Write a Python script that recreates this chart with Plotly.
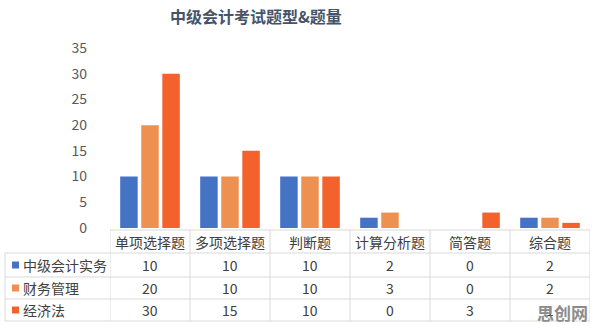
import plotly.graph_objects as go

categories = ["单项选择题", "多项选择题", "判断题", "计算分析题", "简答题", "综合题"]
series_names = ["中级会计实务", "财务管理", "经济法"]
zhongji = [10, 10, 10, 2, 0, 2]
caiwu = [20, 10, 10, 3, 0, 2]
jingji = [30, 15, 10, 0, 3, 1]
colors = ["#4472C4", "#EE9150", "#F4622C"]
y_ticks = [0, 5, 10, 15, 20, 25, 30, 35]

W, H = 596, 325
L, R, T, B = 110, 6, 48, 97
PW = W - L - R
PH = H - T - B
def px_x(px):
    return (px - L) / PW
def px_y(py):
    return (H - B - py) / PH

series_vals = [zhongji, caiwu, jingji]
idx = list(range(len(categories)))

fig = go.Figure()
for name, vals, c in zip(series_names, series_vals, colors):
    fig.add_trace(go.Bar(x=idx, y=vals, name=name, marker=dict(color=c, line=dict(width=0)),
                         hoverinfo="y+name"))

fig.update_layout(
    width=W, height=H,
    margin=dict(l=L, r=R, t=T, b=B),
    paper_bgcolor="white", plot_bgcolor="white",
    barmode="group", bargap=0.21, bargroupgap=0.17,
    showlegend=False,
    font=dict(family="Noto Sans CJK SC, sans-serif", color="#404040", size=14),
)
fig.update_xaxes(range=[-0.5, len(categories) - 0.5], showticklabels=False, showgrid=False,
                 zeroline=False, showline=False, ticks="")
fig.update_yaxes(range=[0, 35], tickvals=y_ticks, showgrid=False, zeroline=False, showline=False,
                 ticks="", ticklabelstandoff=22,
                 tickfont=dict(size=14, color="#595959", family="Noto Sans CJK SC, sans-serif"))

line_c = "#D9D9D9"
shapes = []
row_lines_px = [230, 253, 277, 299, 321]
shapes.append(dict(type="line", xref="paper", yref="paper", x0=0, x1=1,
                   y0=px_y(row_lines_px[0]), y1=px_y(row_lines_px[0]), line=dict(color=line_c, width=1)))
for py in row_lines_px[1:]:
    shapes.append(dict(type="line", xref="paper", yref="paper", x0=px_x(5), x1=1,
                       y0=px_y(py), y1=px_y(py), line=dict(color=line_c, width=1)))
for i in range(len(categories) + 1):
    shapes.append(dict(type="line", xref="x", yref="paper", x0=i - 0.5, x1=i - 0.5,
                       y0=px_y(row_lines_px[0]), y1=px_y(row_lines_px[-1]), line=dict(color=line_c, width=1)))
shapes.append(dict(type="line", xref="paper", yref="paper", x0=px_x(5), x1=px_x(5),
                   y0=px_y(row_lines_px[1]), y1=px_y(row_lines_px[-1]), line=dict(color=line_c, width=1)))

annotations = []
header_y = 242
row_y = [265, 288, 310]
for i, cat in enumerate(categories):
    annotations.append(dict(x=i, y=px_y(header_y), xref="x", yref="paper", text=cat, showarrow=False,
                            font=dict(size=14, color="#404040"), xanchor="center", yanchor="middle"))
for r, (name, vals, c) in enumerate(zip(series_names, series_vals, colors)):
    cy = row_y[r]
    shapes.append(dict(type="rect", xref="paper", yref="paper", x0=px_x(12), x1=px_x(19),
                       y0=px_y(cy + 3.5), y1=px_y(cy - 3.5), fillcolor=c, line=dict(width=0)))
    annotations.append(dict(x=px_x(21), y=px_y(cy), xref="paper", yref="paper", text=name, showarrow=False,
                            font=dict(size=14, color="#404040"), xanchor="left", yanchor="middle"))
    for i, v in enumerate(vals):
        annotations.append(dict(x=i, y=px_y(cy), xref="x", yref="paper", text=str(v), showarrow=False,
                                font=dict(size=14, color="#404040"), xanchor="center", yanchor="middle"))

annotations.append(dict(x=px_x(256), y=px_y(16), xref="paper", yref="paper",
                        text="<b>中级会计考试题型&题量</b>", showarrow=False,
                        font=dict(size=16, color="#44546A"), xanchor="center", yanchor="middle"))
annotations.append(dict(x=px_x(562), y=px_y(312), xref="paper", yref="paper",
                        text="<b>思创网</b>", showarrow=False,
                        font=dict(size=17, color="#8C8C8C"), xanchor="center", yanchor="middle"))

fig.update_layout(shapes=shapes, annotations=annotations)
fig.write_html("out.html")
